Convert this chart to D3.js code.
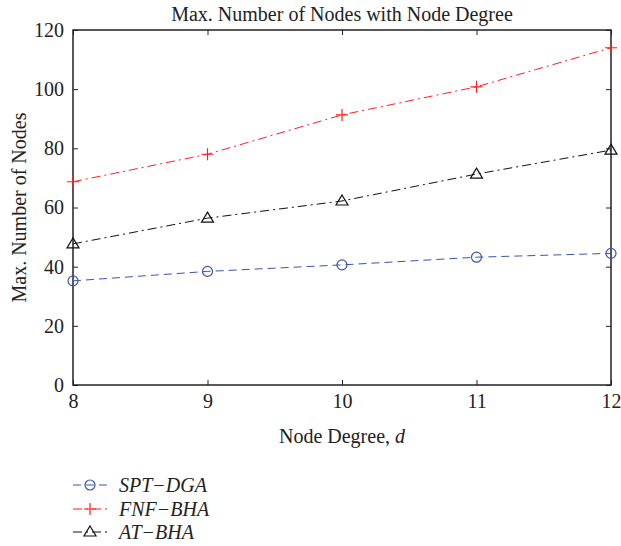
<!DOCTYPE html>
<html><head><meta charset="utf-8">
<script src="https://cdn.jsdelivr.net/npm/d3@7/dist/d3.min.js"></script>
<style>body{margin:0;background:#fff}svg{display:block}</style>
</head><body>
<script>
const degrees = [8, 9, 10, 11, 12];
const sptDga = [35.2, 38.4, 40.6, 43.2, 44.5];
const fnfBha = [68.7, 78.0, 91.3, 100.8, 114.0];
const atBha = [47.7, 56.4, 62.2, 71.3, 79.4];
const yTicks = [0, 20, 40, 60, 80, 100, 120];
const xTicks = [8, 9, 10, 11, 12];
const seriesNames = ["SPT\u2212DGA", "FNF\u2212BHA", "AT\u2212BHA"];

const W = 621, H = 546;
const L = 73, R = 611, T = 30, B = 385;
const font = "'Liberation Serif', 'DejaVu Serif', serif";
const fs = 20;
const svg = d3.select("body").append("svg").attr("width", W).attr("height", H);

const x = d3.scaleLinear().domain([8, 12]).range([L, R]);
const y = d3.scaleLinear().domain([0, 120]).range([B, T]);

const series = [
  {name: seriesNames[0], vals: sptDga, color: "#3b52b4", dash: "8,5", marker: "circle"},
  {name: seriesNames[1], vals: fnfBha, color: "#ff1f1f", dash: "9,4,2,4", marker: "plus"},
  {name: seriesNames[2], vals: atBha, color: "#111", dash: "9,4,2,4", marker: "triangle"}
];

const tickLen = 5;
svg.append("g").attr("transform", `translate(0,${B})`)
  .call(d3.axisBottom(x).tickValues(xTicks).tickSize(-tickLen).tickPadding(9).tickFormat(d3.format("d")));
svg.append("g").attr("transform", `translate(0,${T})`)
  .call(d3.axisTop(x).tickValues(xTicks).tickSize(-tickLen).tickFormat(""));
svg.append("g").attr("transform", `translate(${L},0)`)
  .call(d3.axisLeft(y).tickValues(yTicks).tickSize(-tickLen).tickPadding(9));
svg.append("g").attr("transform", `translate(${R},0)`)
  .call(d3.axisRight(y).tickValues(yTicks).tickSize(-tickLen).tickFormat(""));
svg.selectAll(".domain").remove();
svg.selectAll(".tick line").attr("stroke", "#222").attr("stroke-width", 1);
svg.selectAll(".tick text").attr("font-family", font).attr("font-size", fs).attr("fill", "#222");
svg.append("rect").attr("x", L).attr("y", T).attr("width", R - L).attr("height", B - T)
  .attr("fill", "none").attr("stroke", "#222").attr("stroke-width", 1.5);

function drawMarker(g, type, cx, cy, color) {
  if (type === "circle") {
    g.append("circle").attr("cx", cx).attr("cy", cy).attr("r", 5)
      .attr("fill", "none").attr("stroke", color).attr("stroke-width", 1.2);
  } else if (type === "plus") {
    g.append("path").attr("d", `M${cx-6},${cy}H${cx+6}M${cx},${cy-6}V${cy+6}`)
      .attr("stroke", color).attr("stroke-width", 1.2);
  } else {
    g.append("path").attr("d", `M${cx},${cy-6}L${cx+6},${cy+4}L${cx-6},${cy+4}Z`)
      .attr("fill", "none").attr("stroke", color).attr("stroke-width", 1.2);
  }
}

const line = d3.line().x((d, i) => x(degrees[i])).y(d => y(d));
series.forEach(s => {
  svg.append("path").datum(s.vals).attr("d", line).attr("fill", "none")
    .attr("stroke", s.color).attr("stroke-width", 1).attr("stroke-dasharray", s.dash);
  const g = svg.append("g");
  s.vals.forEach((v, i) => drawMarker(g, s.marker, x(degrees[i]), y(v), s.color));
});

svg.append("text").attr("x", (L + R) / 2).attr("y", 21).attr("text-anchor", "middle")
  .attr("font-family", font).attr("font-size", fs).attr("fill", "#222")
  .text("Max. Number of Nodes with Node Degree");
const xl = svg.append("text").attr("x", (L + R) / 2).attr("y", 443).attr("text-anchor", "middle")
  .attr("font-family", font).attr("font-size", fs).attr("fill", "#222");
xl.append("tspan").text("Node Degree, ");
xl.append("tspan").attr("font-style", "italic").text("d");
svg.append("text").attr("transform", `translate(26,${(T + B) / 2}) rotate(-90)`)
  .attr("text-anchor", "middle").attr("font-family", font).attr("font-size", fs).attr("fill", "#222")
  .text("Max. Number of Nodes");

const legY = [485, 509, 532];
series.forEach((s, i) => {
  const g = svg.append("g");
  g.append("path").attr("d", `M73,${legY[i]}H107`).attr("stroke", s.color).attr("stroke-width", 1)
    .attr("stroke-dasharray", s.dash);
  drawMarker(g, s.marker, 90, legY[i], s.color);
  g.append("text").attr("x", 119).attr("y", legY[i] + 7).attr("font-family", font)
    .attr("font-size", fs).attr("font-style", "italic").attr("fill", "#222").text(s.name);
});
</script>
</body></html>
